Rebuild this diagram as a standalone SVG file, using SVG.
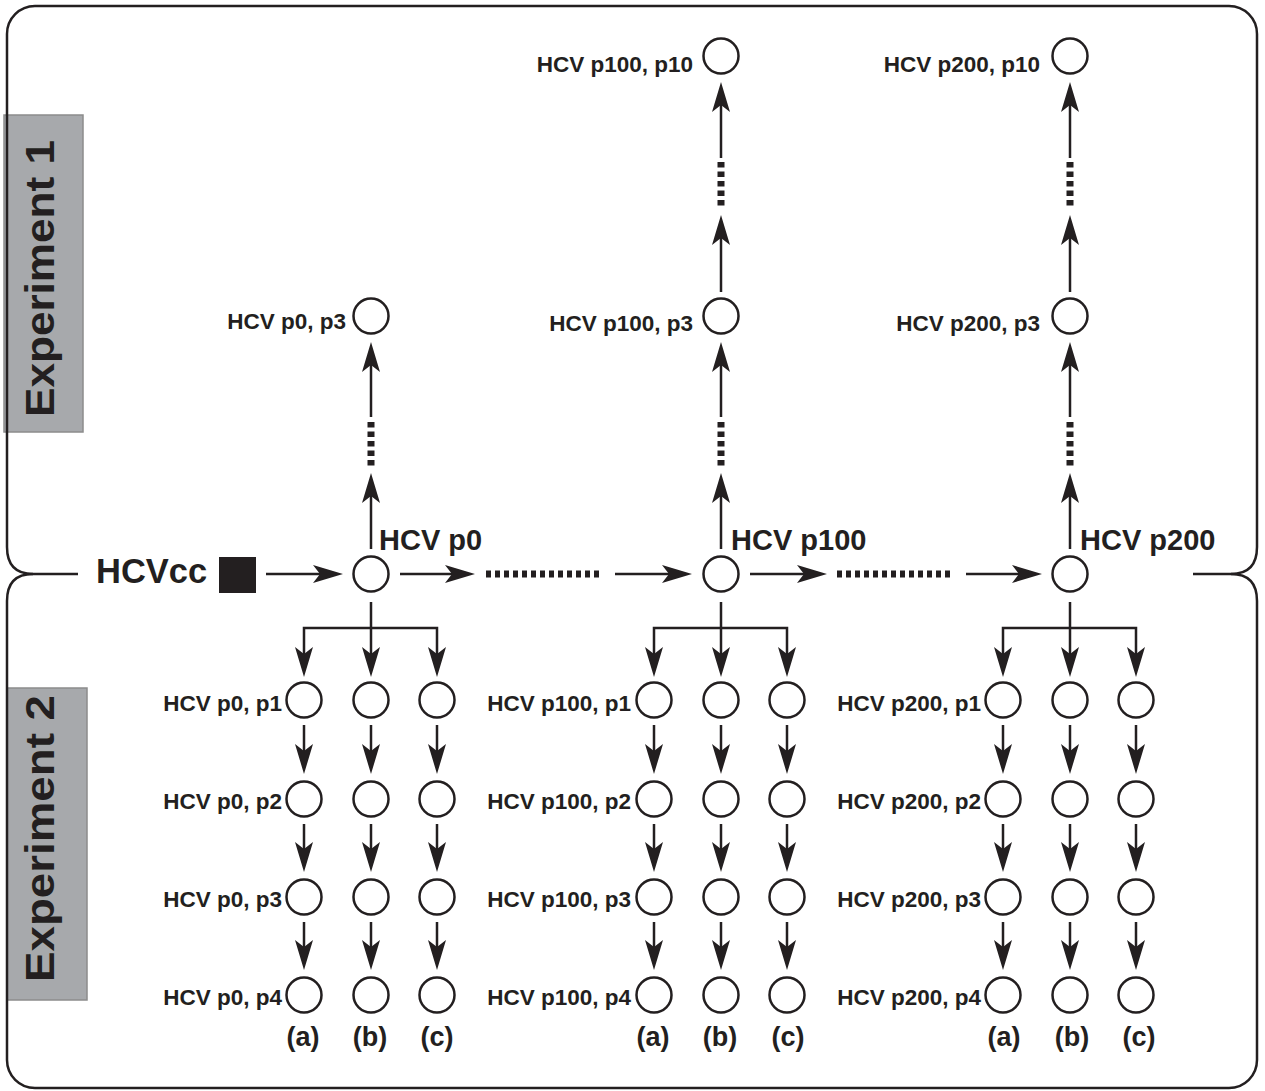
<svg xmlns="http://www.w3.org/2000/svg" width="1265" height="1091" viewBox="0 0 1265 1091">
<style>
.fr{fill:none;stroke:#231f20;stroke-width:2.5}
.nd{fill:#fff;stroke:#231f20;stroke-width:2.5}
.ln{fill:none;stroke:#231f20;stroke-width:2.5}
.ar{fill:none;stroke:#231f20;stroke-width:2.5;marker-end:url(#ah)}
.dt{fill:none;stroke:#231f20;stroke-width:7;stroke-dasharray:5 4}
.dv{fill:none;stroke:#231f20;stroke-width:7;stroke-dasharray:5.5 4}
text{font-family:"Liberation Sans",Arial,Helvetica,sans-serif;font-weight:bold;fill:#231f20}
.sl{font-size:22.5px;text-anchor:end}
.bl{font-size:29px}
.cl{font-size:27px;text-anchor:middle}
.ex{font-size:40px;text-anchor:middle}
.lb{fill:#a7a9ac;stroke:#8c8c8c;stroke-width:1.5}
</style>
<defs>
<marker id="ah" markerUnits="userSpaceOnUse" viewBox="-31 -10 31 20" markerWidth="31" markerHeight="20" refX="-21" refY="0" orient="auto-start-reverse">
<path d="M0,0 L-30,-9 L-23,0 L-30,9 Z" fill="#231f20"/>
</marker>
</defs>
<rect width="1265" height="1091" fill="#fff"/>

<g id="label-exp1">
<rect class="lb" x="4" y="115" width="79" height="317"/>
<text class="ex" transform="translate(54,278.5) rotate(-90)" textLength="277" lengthAdjust="spacingAndGlyphs">Experiment 1</text>
</g>
<g id="label-exp2">
<rect class="lb" x="7" y="688" width="80" height="312"/>
<text class="ex" transform="translate(54,838.5) rotate(-90)" textLength="287" lengthAdjust="spacingAndGlyphs">Experiment 2</text>
</g>

<g id="frames">
<path class="fr" d="M33,574 Q7,574 7,547 L7,34 A28,28 0 0 1 35,6 L1229,6 A28,28 0 0 1 1257,34 L1257,547 Q1257,574 1231,574"/>
<path class="fr" d="M33,574 Q7,574 7,601 L7,1060 A28,28 0 0 0 35,1088 L1229,1088 A28,28 0 0 0 1257,1060 L1257,601 Q1257,574 1231,574"/>
<line class="fr" x1="33" y1="574" x2="78" y2="574"/>
<line class="fr" x1="1193" y1="574" x2="1231" y2="574"/>
</g>

<g id="connectors">
<line class="ar" x1="266" y1="574" x2="322" y2="574"/>
<line class="ar" x1="400" y1="574" x2="454" y2="574"/>
<line class="dt" x1="486" y1="574" x2="601" y2="574"/>
<line class="ar" x1="615" y1="574" x2="671" y2="574"/>
<line class="ar" x1="750" y1="574" x2="806" y2="574"/>
<line class="dt" x1="837" y1="574" x2="952" y2="574"/>
<line class="ar" x1="966" y1="574" x2="1021" y2="574"/>

<line class="ar" x1="371" y1="549" x2="371" y2="494"/>
<line class="dv" x1="371" y1="422" x2="371" y2="467"/>
<line class="ar" x1="371" y1="417" x2="371" y2="363"/>

<line class="ar" x1="721" y1="549" x2="721" y2="494"/>
<line class="dv" x1="721" y1="422" x2="721" y2="467"/>
<line class="ar" x1="721" y1="417" x2="721" y2="363"/>
<line class="ar" x1="721" y1="292" x2="721" y2="236"/>
<line class="dv" x1="721" y1="162" x2="721" y2="207"/>
<line class="ar" x1="721" y1="158" x2="721" y2="103"/>

<line class="ar" x1="1070" y1="549" x2="1070" y2="494"/>
<line class="dv" x1="1070" y1="422" x2="1070" y2="467"/>
<line class="ar" x1="1070" y1="417" x2="1070" y2="363"/>
<line class="ar" x1="1070" y1="292" x2="1070" y2="236"/>
<line class="dv" x1="1070" y1="162" x2="1070" y2="207"/>
<line class="ar" x1="1070" y1="158" x2="1070" y2="103"/>

<line class="ar" x1="371" y1="602" x2="371" y2="656"/>
<path class="ln" d="M304,656 V628 H437 V656" marker-start="url(#ah)" marker-end="url(#ah)"/>
<line class="ar" x1="721" y1="602" x2="721" y2="656"/>
<path class="ln" d="M654,656 V628 H787 V656" marker-start="url(#ah)" marker-end="url(#ah)"/>
<line class="ar" x1="1070" y1="602" x2="1070" y2="656"/>
<path class="ln" d="M1003,656 V628 H1136 V656" marker-start="url(#ah)" marker-end="url(#ah)"/>

<g id="col-chains">
<line class="ar" x1="304" y1="725" x2="304" y2="753"/><line class="ar" x1="304" y1="824" x2="304" y2="851"/><line class="ar" x1="304" y1="922" x2="304" y2="949"/>
<line class="ar" x1="371" y1="725" x2="371" y2="753"/><line class="ar" x1="371" y1="824" x2="371" y2="851"/><line class="ar" x1="371" y1="922" x2="371" y2="949"/>
<line class="ar" x1="437" y1="725" x2="437" y2="753"/><line class="ar" x1="437" y1="824" x2="437" y2="851"/><line class="ar" x1="437" y1="922" x2="437" y2="949"/>
<line class="ar" x1="654" y1="725" x2="654" y2="753"/><line class="ar" x1="654" y1="824" x2="654" y2="851"/><line class="ar" x1="654" y1="922" x2="654" y2="949"/>
<line class="ar" x1="721" y1="725" x2="721" y2="753"/><line class="ar" x1="721" y1="824" x2="721" y2="851"/><line class="ar" x1="721" y1="922" x2="721" y2="949"/>
<line class="ar" x1="787" y1="725" x2="787" y2="753"/><line class="ar" x1="787" y1="824" x2="787" y2="851"/><line class="ar" x1="787" y1="922" x2="787" y2="949"/>
<line class="ar" x1="1003" y1="725" x2="1003" y2="753"/><line class="ar" x1="1003" y1="824" x2="1003" y2="851"/><line class="ar" x1="1003" y1="922" x2="1003" y2="949"/>
<line class="ar" x1="1070" y1="725" x2="1070" y2="753"/><line class="ar" x1="1070" y1="824" x2="1070" y2="851"/><line class="ar" x1="1070" y1="922" x2="1070" y2="949"/>
<line class="ar" x1="1136" y1="725" x2="1136" y2="753"/><line class="ar" x1="1136" y1="824" x2="1136" y2="851"/><line class="ar" x1="1136" y1="922" x2="1136" y2="949"/>
</g>
</g>

<g id="node-hcvcc">
<text x="96" y="583" style="font-size:34.5px">HCVcc</text>
<rect x="219" y="557" width="37" height="36" fill="#231f20"/>
</g>

<g id="node-p0"><circle class="nd" cx="371" cy="574" r="17.5"/><text class="bl" x="379" y="550">HCV p0</text></g>
<g id="node-p100"><circle class="nd" cx="721" cy="574" r="17.5"/><text class="bl" x="731" y="550">HCV p100</text></g>
<g id="node-p200"><circle class="nd" cx="1070" cy="574" r="17.5"/><text class="bl" x="1080" y="550">HCV p200</text></g>

<g id="node-p0-p3-top"><circle class="nd" cx="371" cy="316" r="17.5"/><text class="sl" x="346" y="329">HCV p0, p3</text></g>
<g id="node-p100-p3-top"><circle class="nd" cx="721" cy="316" r="17.5"/><text class="sl" x="693" y="331">HCV p100, p3</text></g>
<g id="node-p100-p10-top"><circle class="nd" cx="721" cy="56" r="17.5"/><text class="sl" x="693" y="72">HCV p100, p10</text></g>
<g id="node-p200-p3-top"><circle class="nd" cx="1070" cy="316" r="17.5"/><text class="sl" x="1040" y="331">HCV p200, p3</text></g>
<g id="node-p200-p10-top"><circle class="nd" cx="1070" cy="56" r="17.5"/><text class="sl" x="1040" y="72">HCV p200, p10</text></g>

<g id="nodes-p0-cols">
<circle class="nd" cx="304" cy="700" r="17.5"/><circle class="nd" cx="371" cy="700" r="17.5"/><circle class="nd" cx="437" cy="700" r="17.5"/>
<circle class="nd" cx="304" cy="799" r="17.5"/><circle class="nd" cx="371" cy="799" r="17.5"/><circle class="nd" cx="437" cy="799" r="17.5"/>
<circle class="nd" cx="304" cy="897" r="17.5"/><circle class="nd" cx="371" cy="897" r="17.5"/><circle class="nd" cx="437" cy="897" r="17.5"/>
<circle class="nd" cx="304" cy="995" r="17.5"/><circle class="nd" cx="371" cy="995" r="17.5"/><circle class="nd" cx="437" cy="995" r="17.5"/>
<text class="sl" x="282" y="711">HCV p0, p1</text>
<text class="sl" x="282" y="809">HCV p0, p2</text>
<text class="sl" x="282" y="907">HCV p0, p3</text>
<text class="sl" x="282" y="1005">HCV p0, p4</text>
<text class="cl" x="303" y="1046">(a)</text><text class="cl" x="370" y="1046">(b)</text><text class="cl" x="437" y="1046">(c)</text>
</g>
<g id="nodes-p100-cols">
<circle class="nd" cx="654" cy="700" r="17.5"/><circle class="nd" cx="721" cy="700" r="17.5"/><circle class="nd" cx="787" cy="700" r="17.5"/>
<circle class="nd" cx="654" cy="799" r="17.5"/><circle class="nd" cx="721" cy="799" r="17.5"/><circle class="nd" cx="787" cy="799" r="17.5"/>
<circle class="nd" cx="654" cy="897" r="17.5"/><circle class="nd" cx="721" cy="897" r="17.5"/><circle class="nd" cx="787" cy="897" r="17.5"/>
<circle class="nd" cx="654" cy="995" r="17.5"/><circle class="nd" cx="721" cy="995" r="17.5"/><circle class="nd" cx="787" cy="995" r="17.5"/>
<text class="sl" x="631" y="711">HCV p100, p1</text>
<text class="sl" x="631" y="809">HCV p100, p2</text>
<text class="sl" x="631" y="907">HCV p100, p3</text>
<text class="sl" x="631" y="1005">HCV p100, p4</text>
<text class="cl" x="653" y="1046">(a)</text><text class="cl" x="720" y="1046">(b)</text><text class="cl" x="788" y="1046">(c)</text>
</g>
<g id="nodes-p200-cols">
<circle class="nd" cx="1003" cy="700" r="17.5"/><circle class="nd" cx="1070" cy="700" r="17.5"/><circle class="nd" cx="1136" cy="700" r="17.5"/>
<circle class="nd" cx="1003" cy="799" r="17.5"/><circle class="nd" cx="1070" cy="799" r="17.5"/><circle class="nd" cx="1136" cy="799" r="17.5"/>
<circle class="nd" cx="1003" cy="897" r="17.5"/><circle class="nd" cx="1070" cy="897" r="17.5"/><circle class="nd" cx="1136" cy="897" r="17.5"/>
<circle class="nd" cx="1003" cy="995" r="17.5"/><circle class="nd" cx="1070" cy="995" r="17.5"/><circle class="nd" cx="1136" cy="995" r="17.5"/>
<text class="sl" x="981" y="711">HCV p200, p1</text>
<text class="sl" x="981" y="809">HCV p200, p2</text>
<text class="sl" x="981" y="907">HCV p200, p3</text>
<text class="sl" x="981" y="1005">HCV p200, p4</text>
<text class="cl" x="1004" y="1046">(a)</text><text class="cl" x="1072" y="1046">(b)</text><text class="cl" x="1139" y="1046">(c)</text>
</g>
</svg>
